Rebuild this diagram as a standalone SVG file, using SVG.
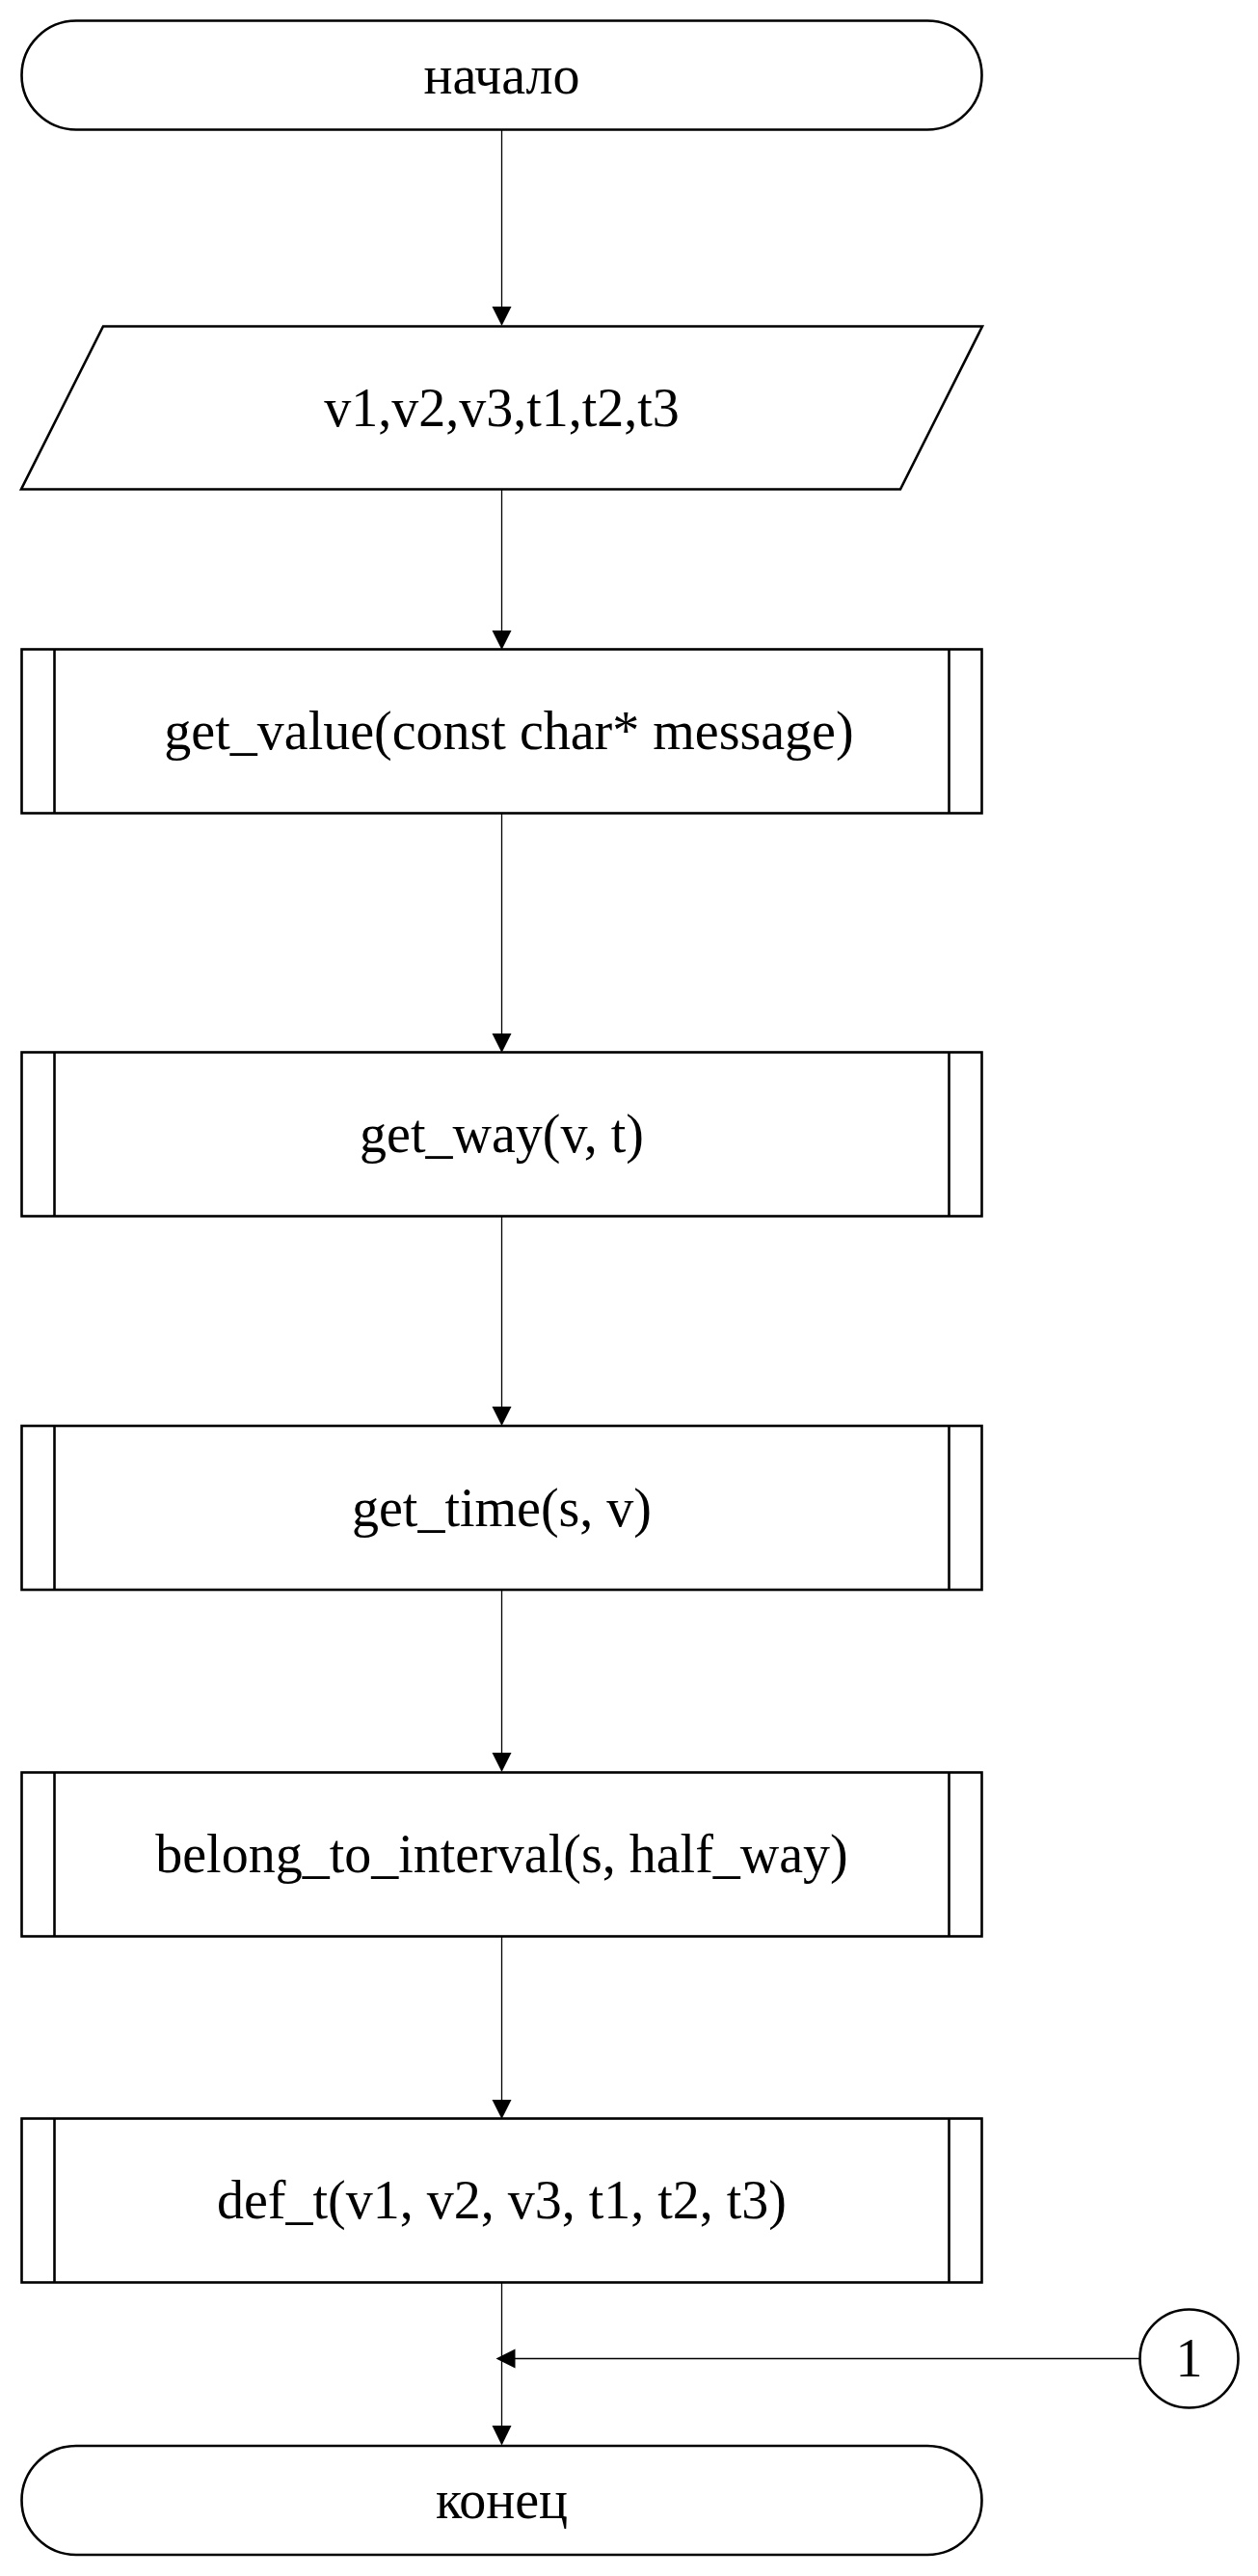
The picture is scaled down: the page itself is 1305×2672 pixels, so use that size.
<svg xmlns="http://www.w3.org/2000/svg" width="1305" height="2672" viewBox="0 0 1305 2672">
<style>
.s{fill:#fff;stroke:#000;stroke-width:2.6}
.t{font-family:"Liberation Serif","Times New Roman",serif;font-size:56px;fill:#000;text-anchor:middle}
.c{stroke:#000;stroke-width:1.3;fill:none}
.a{fill:#000}
</style>
<rect width="1305" height="2672" fill="#fff"/>
<g id="connectors">
<line class="c" x1="520.5" y1="134.5" x2="520.5" y2="320"/>
<polygon class="a" points="510.5,318 530.5,318 520.5,338"/>
<line class="c" x1="520.5" y1="508" x2="520.5" y2="655"/>
<polygon class="a" points="510.5,654 530.5,654 520.5,674"/>
<line class="c" x1="520.5" y1="844" x2="520.5" y2="1073"/>
<polygon class="a" points="510.5,1072 530.5,1072 520.5,1092"/>
<line class="c" x1="520.5" y1="1261" x2="520.5" y2="1460"/>
<polygon class="a" points="510.5,1459 530.5,1459 520.5,1479"/>
<line class="c" x1="520.5" y1="1649" x2="520.5" y2="1820"/>
<polygon class="a" points="510.5,1818 530.5,1818 520.5,1838"/>
<line class="c" x1="520.5" y1="2008" x2="520.5" y2="2180"/>
<polygon class="a" points="510.5,2178 530.5,2178 520.5,2198"/>
<line class="c" x1="520.5" y1="2367" x2="520.5" y2="2518"/>
<polygon class="a" points="510.5,2516 530.5,2516 520.5,2536.5"/>
<line class="c" x1="1182" y1="2446.5" x2="533" y2="2446.5"/>
<polygon class="a" points="534.5,2436.5 534.5,2456.5 514.5,2446.5"/>
</g>
<g id="start">
<rect class="s" x="22.5" y="21.5" width="996" height="113" rx="56.5" ry="56.5"/>
<text class="t" x="520.5" y="97">начало</text>
</g>
<g id="input">
<polygon class="s" points="107,338.5 1019,338.5 934,507.5 22,507.5"/>
<text class="t" x="520.5" y="442">v1,v2,v3,t1,t2,t3</text>
</g>
<g id="p1">
<rect class="s" x="22.5" y="673.5" width="996" height="170"/>
<line class="s" x1="56.5" y1="673.5" x2="56.5" y2="843.5"/>
<line class="s" x1="984.5" y1="673.5" x2="984.5" y2="843.5"/>
<text class="t" x="528" y="777">get_value(const char* message)</text>
</g>
<g id="p2">
<rect class="s" x="22.5" y="1091.5" width="996" height="170"/>
<line class="s" x1="56.5" y1="1091.5" x2="56.5" y2="1261.5"/>
<line class="s" x1="984.5" y1="1091.5" x2="984.5" y2="1261.5"/>
<text class="t" x="520.5" y="1195">get_way(v, t)</text>
</g>
<g id="p3">
<rect class="s" x="22.5" y="1479" width="996" height="170"/>
<line class="s" x1="56.5" y1="1479" x2="56.5" y2="1649"/>
<line class="s" x1="984.5" y1="1479" x2="984.5" y2="1649"/>
<text class="t" x="520.5" y="1583">get_time(s, v)</text>
</g>
<g id="p4">
<rect class="s" x="22.5" y="1838.5" width="996" height="170"/>
<line class="s" x1="56.5" y1="1838.5" x2="56.5" y2="2008.5"/>
<line class="s" x1="984.5" y1="1838.5" x2="984.5" y2="2008.5"/>
<text class="t" x="520.5" y="1942">belong_to_interval(s, half_way)</text>
</g>
<g id="p5">
<rect class="s" x="22.5" y="2197.5" width="996" height="170"/>
<line class="s" x1="56.5" y1="2197.5" x2="56.5" y2="2367.5"/>
<line class="s" x1="984.5" y1="2197.5" x2="984.5" y2="2367.5"/>
<text class="t" x="520.5" y="2301">def_t(v1, v2, v3, t1, t2, t3)</text>
</g>
<g id="connector1">
<circle class="s" cx="1233.5" cy="2446.5" r="51"/>
<text class="t" x="1233.5" y="2465">1</text>
</g>
<g id="end">
<rect class="s" x="22.5" y="2537" width="996" height="113" rx="56.5" ry="56.5"/>
<text class="t" x="520.5" y="2612">конец</text>
</g>
</svg>
